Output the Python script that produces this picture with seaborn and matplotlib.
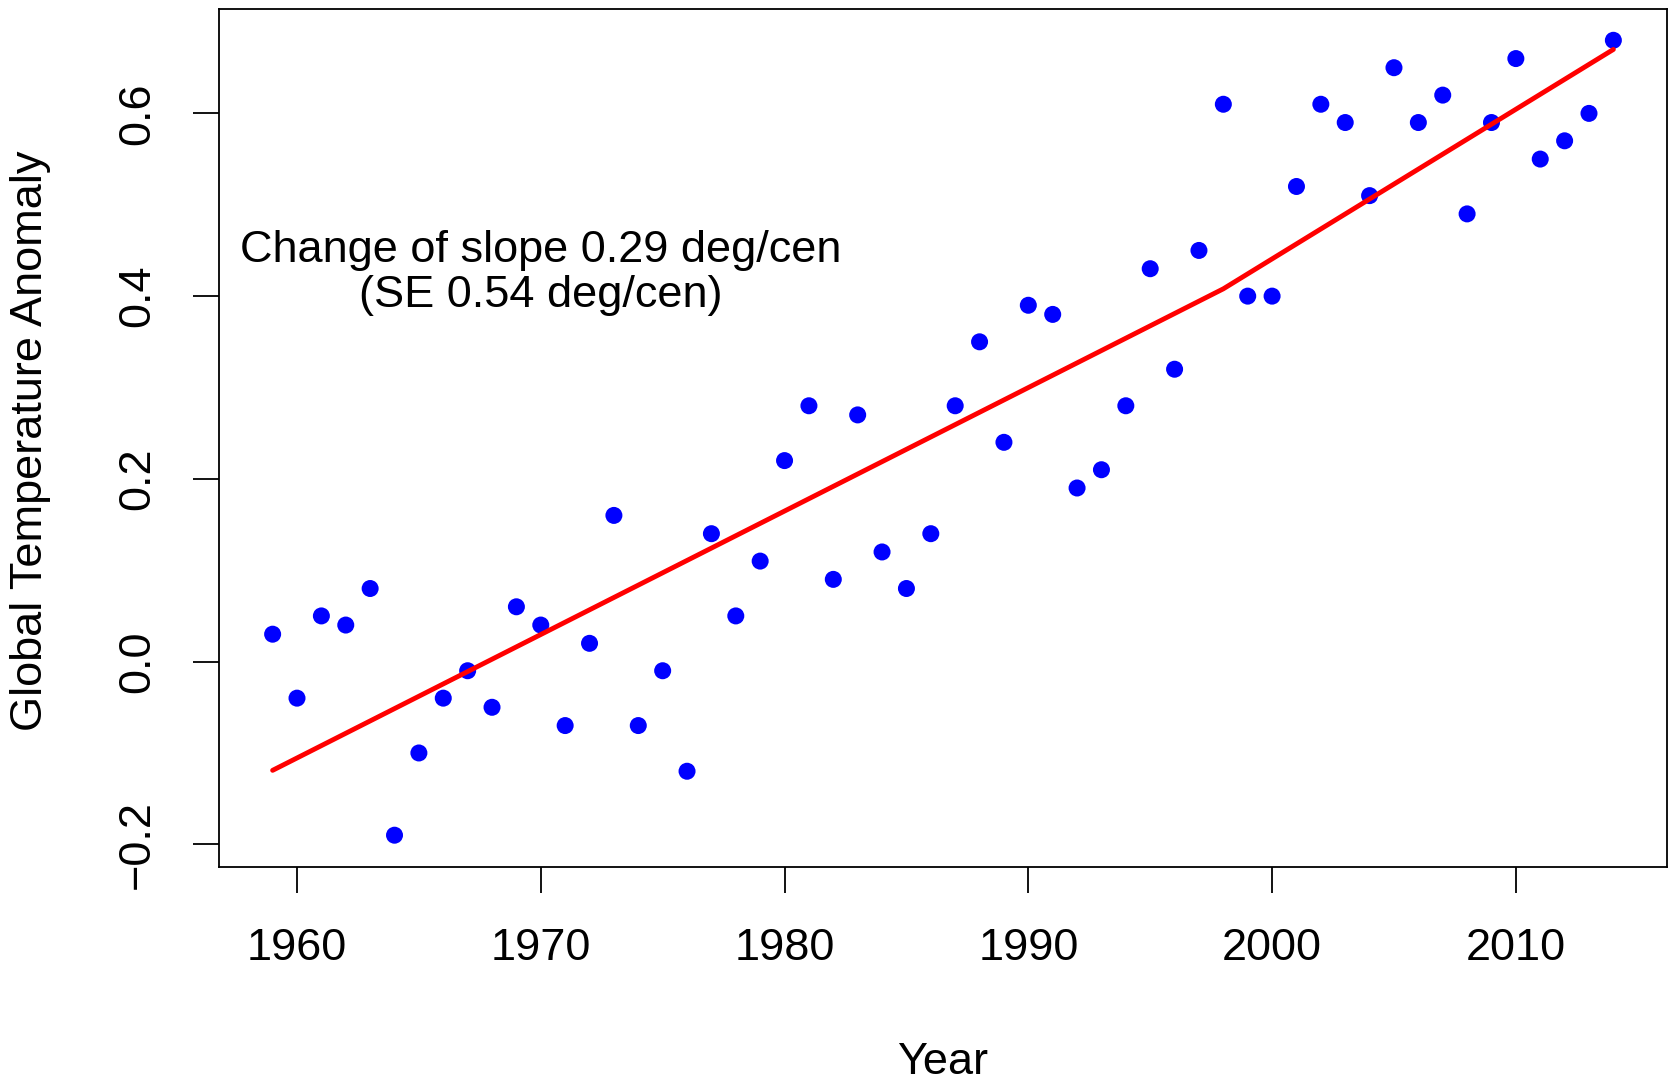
import numpy as np
import pandas as pd
import matplotlib
matplotlib.use("Agg")
import matplotlib.pyplot as plt
import seaborn as sns

years = list(range(1959, 2015))
anomaly = [0.03, -0.04, 0.05, 0.04, 0.08, -0.19, -0.10, -0.04, -0.01, -0.05,
           0.06, 0.04, -0.07, 0.02, 0.16, -0.07, -0.01, -0.12, 0.14, 0.05,
           0.11, 0.22, 0.28, 0.09, 0.27, 0.12, 0.08, 0.14, 0.28, 0.35,
           0.24, 0.39, 0.38, 0.19, 0.21, 0.28, 0.43, 0.32, 0.45, 0.61,
           0.40, 0.40, 0.52, 0.61, 0.59, 0.51, 0.65, 0.59, 0.62, 0.49,
           0.59, 0.66, 0.55, 0.57, 0.60, 0.68]
fit_years = [1959, 1998, 2014]
fit_values = [-0.119, 0.408, 0.670]
x_ticks = [1960, 1970, 1980, 1990, 2000, 2010]
y_ticks = [-0.2, 0.0, 0.2, 0.4, 0.6]
y_tick_labels = ["\u22120.2", "0.0", "0.2", "0.4", "0.6"]
annotation = "Change of slope 0.29 deg/cen\n(SE 0.54 deg/cen)"

sns.set_style("white")
plt.rcParams['font.family'] = ['Liberation Sans', 'DejaVu Sans']
plt.rcParams['text.color'] = 'black'
plt.rcParams['axes.labelcolor'] = 'black'

df = pd.DataFrame({"Year": years, "Anomaly": anomaly})
fit = pd.DataFrame({"Year": fit_years, "Fit": fit_values})

FS = 32.5
W, H = 1669, 1083
fig = plt.figure(figsize=(W / 100, H / 100), dpi=100)
ax = fig.add_axes([219 / W, 1 - 867 / H, (1667 - 219) / W, (867 - 8.5) / H])

sns.scatterplot(data=df, x="Year", y="Anomaly", ax=ax, color="#0000ff",
                s=150, edgecolor="none", linewidth=0, zorder=3)
sns.lineplot(data=fit, x="Year", y="Fit", ax=ax, color="#ff0000",
             linewidth=3.5, zorder=4)

rng_x = max(years) - min(years)
ax.set_xlim(min(years) - 0.04 * rng_x, max(years) + 0.04 * rng_x)
rng_y = max(anomaly) - min(anomaly)
ax.set_ylim(min(anomaly) - 0.04 * rng_y, max(anomaly) + 0.04 * rng_y)

ax.set_xticks(x_ticks)
ax.set_xticklabels([str(t) for t in x_ticks])
ax.set_yticks(y_ticks)
ax.set_yticklabels(y_tick_labels, rotation=90, va="center")

ax.tick_params(axis="both", direction="out", length=19, width=1.3,
               color="black", labelsize=FS, labelcolor="black")
ax.tick_params(axis="x", pad=25, bottom=True)
ax.tick_params(axis="y", pad=25, left=True)

for sp in ax.spines.values():
    sp.set_visible(True)
    sp.set_color("black")
    sp.set_linewidth(1.3)

ax.set_xlabel("Year", fontsize=FS, color="black")
ax.set_ylabel("Global Temperature Anomaly", fontsize=FS, color="black")
ax.xaxis.set_label_coords(((219 + 1667) / 2) / W, 1 - 1063 / H,
                          transform=fig.transFigure)
ax.xaxis.label.set_va("center")
ax.yaxis.set_label_coords(31 / W, 1 - 441 / H, transform=fig.transFigure)
ax.yaxis.label.set_va("center")

ax.text(1970, 0.425, annotation, ha="center", va="center", fontsize=FS,
        linespacing=1.12, color="black")

fig.savefig("out.png", dpi=100, facecolor="white")
